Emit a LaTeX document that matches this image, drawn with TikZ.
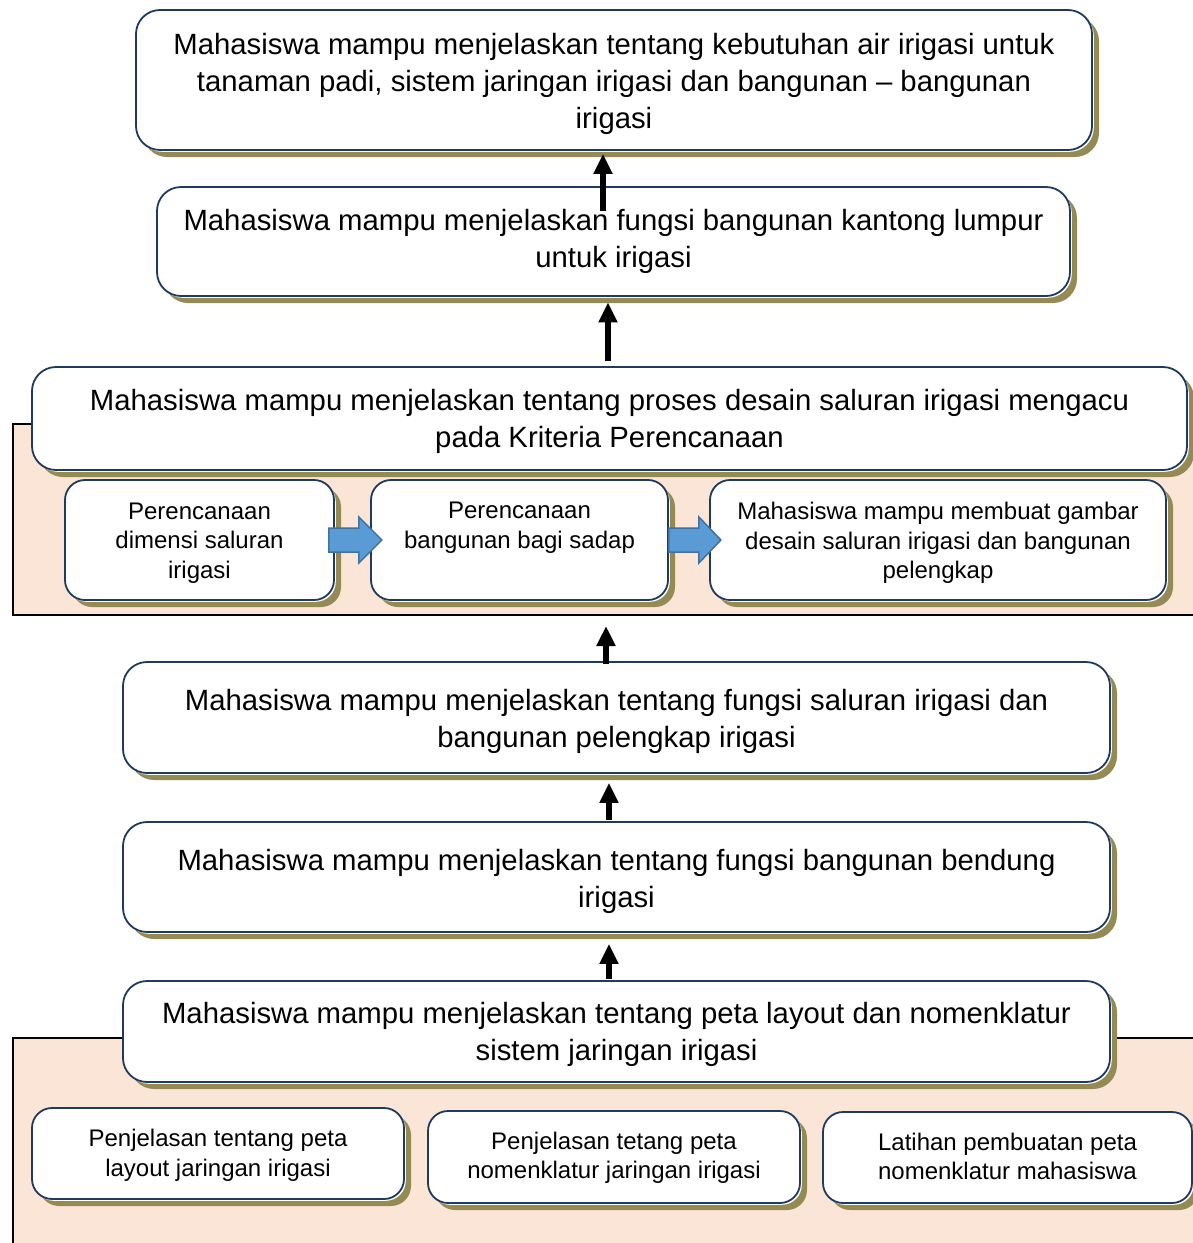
\documentclass[tikz,border=0pt]{standalone}
\usepackage{fontspec}
\setmainfont{Liberation Sans}
\usetikzlibrary{shadows,arrows.meta,calc}
\definecolor{navy}{HTML}{1F3A5F}
\definecolor{shadowc}{HTML}{948A54}
\definecolor{peach}{HTML}{FBE5D6}
\definecolor{bluef}{HTML}{5B9BD5}
\definecolor{blued}{HTML}{41719C}
\tikzset{
 basebox/.style={draw=navy, line width=1.8pt, fill=white, align=center, inner sep=0pt, anchor=center,
   general shadow={shadow xshift=7pt,shadow yshift=-7pt,fill=shadowc},
   general shadow={shadow xshift=1.8pt,shadow yshift=-1.8pt,fill=white}},
 bigbox/.style={basebox, rounded corners=24pt},
 smallbox/.style={basebox, rounded corners=20pt},
 bigtxt/.style={font=\fontsize{29.3}{37}\selectfont, align=center, inner sep=0pt, yshift=-#1},
 smalltxt/.style={font=\fontsize{24}{29.5}\selectfont, align=center, inner sep=0pt, yshift=-#1},
 upar/.style={line width=6pt, -{Triangle[length=20pt,width=18pt]}},
 bluear/.style={fill=bluef, draw=blued, line width=1.5pt, line join=miter},
 groupbg/.style={fill=peach, draw=black, line width=2.5pt},
}
\begin{document}
\begin{tikzpicture}[x=1pt,y=-1pt]
\useasboundingbox (0,0) rectangle (1193,1243);
\clip (0,0) rectangle (1193,1243);
\fill[white] (0,0) rectangle (1193,1243);
% group backgrounds
\draw[groupbg] (13,424) rectangle (1230,615);
\draw[groupbg] (13,1038) rectangle (1230,1290);
% main boxes
\node[bigbox, minimum width=956pt, minimum height=140pt,
  label={[bigtxt=4pt]center:{Mahasiswa mampu menjelaskan tentang kebutuhan air irigasi untuk\\tanaman padi, sistem jaringan irigasi dan bangunan – bangunan\\irigasi}}] (box1) at (614,80) {};
\node[bigbox, minimum width=913pt, minimum height=109pt,
  label={[bigtxt=0pt]center:{Mahasiswa mampu menjelaskan fungsi bangunan kantong lumpur\\untuk irigasi}}] (box2) at (613.5,241.5) {};
\node[bigbox, minimum width=1155pt, minimum height=103pt,
  label={[bigtxt=3pt]center:{Mahasiswa mampu menjelaskan tentang proses desain saluran irigasi mengacu\\pada Kriteria Perencanaan}}] (box3) at (609.5,418.5) {};
\node[smallbox, minimum width=269pt, minimum height=120pt,
  label={[smalltxt=3pt]center:{Perencanaan\\dimensi saluran\\irigasi}}] (s1) at (199.5,540) {};
\node[smallbox, minimum width=297pt, minimum height=120pt,
  label={[smalltxt=0pt]center:{Perencanaan\\bangunan bagi sadap\\\mbox{}}}] (s2) at (519.5,540) {};
\node[smallbox, minimum width=456pt, minimum height=120pt,
  label={[smalltxt=3pt]center:{Mahasiswa mampu membuat gambar\\desain saluran irigasi dan bangunan\\pelengkap}}] (s3) at (938,540) {};
\node[bigbox, minimum width=987pt, minimum height=111pt,
  label={[bigtxt=4pt]center:{Mahasiswa mampu menjelaskan tentang fungsi saluran irigasi dan\\bangunan pelengkap irigasi}}] (box4) at (616.5,717.5) {};
\node[bigbox, minimum width=987pt, minimum height=110pt,
  label={[bigtxt=4pt]center:{Mahasiswa mampu menjelaskan tentang fungsi bangunan bendung\\irigasi}}] (box5) at (616.5,877) {};
\node[bigbox, minimum width=987pt, minimum height=101pt,
  label={[bigtxt=3pt]center:{Mahasiswa mampu menjelaskan tentang peta layout dan nomenklatur\\sistem jaringan irigasi}}] (box6) at (616.5,1031.5) {};
\node[smallbox, minimum width=372pt, minimum height=91pt,
  label={[smalltxt=2pt]center:{Penjelasan tentang peta\\layout jaringan irigasi}}] (b1) at (218,1153.5) {};
\node[smallbox, minimum width=372pt, minimum height=92pt,
  label={[smalltxt=1pt]center:{Penjelasan tetang peta\\nomenklatur jaringan irigasi}}] (b2) at (614,1157) {};
\node[smallbox, minimum width=369pt, minimum height=91pt,
  label={[smalltxt=-1pt]center:{Latihan pembuatan peta\\nomenklatur mahasiswa}}] (b3) at (1007.5,1157.5) {};
% blue block arrows
\begin{scope}[shift={(s1.east)}]
  \draw[bluear] (-6,-12) -- (24,-12) -- (24,-23) -- (47,0) -- (24,23) -- (24,12) -- (-6,12) -- cycle;
\end{scope}
\begin{scope}[shift={(s2.east)}]
  \draw[bluear] (0,-12) -- (30,-12) -- (30,-23) -- (52,0) -- (30,23) -- (30,12) -- (0,12) -- cycle;
\end{scope}
% black arrows
\coordinate (g1b) at (606,626);
\draw[upar] ([xshift=-10.5pt,yshift=-25pt]box2.north) -- ([xshift=-11pt,yshift=-3pt]box1.south);
\draw[upar] ([xshift=-1.5pt,yshift=5pt]box3.north) -- ([xshift=-5.5pt,yshift=-5.5pt]box2.south);
\draw[upar] ([xshift=-10.5pt,yshift=-3pt]box4.north) -- (g1b);
\draw[upar] ([xshift=-7.5pt,yshift=1pt]box5.north) -- ([xshift=-7.5pt,yshift=-9pt]box4.south);
\draw[upar] ([xshift=-7.5pt,yshift=1pt]box6.north) -- ([xshift=-7.5pt,yshift=-11pt]box5.south);
\end{tikzpicture}
\end{document}
